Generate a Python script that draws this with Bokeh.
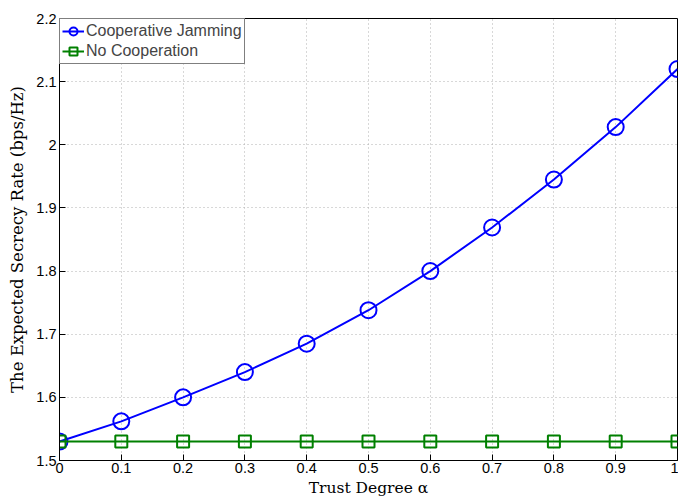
from bokeh.plotting import figure
from bokeh.models import FixedTicker, CustomJSTickFormatter, Range1d, Legend, LegendItem
from bokeh.embed import file_html
from bokeh.resources import INLINE

alpha = [0.0, 0.1, 0.2, 0.3, 0.4, 0.5, 0.6, 0.7, 0.8, 0.9, 1.0]
coop_jamming = [1.530, 1.562, 1.600, 1.640, 1.685, 1.738, 1.800, 1.869, 1.945, 2.028, 2.120]
no_coop = [1.530, 1.530, 1.530, 1.530, 1.530, 1.530, 1.530, 1.530, 1.530, 1.530, 1.530]
x_ticks = [0.0, 0.1, 0.2, 0.3, 0.4, 0.5, 0.6, 0.7, 0.8, 0.9, 1.0]
y_ticks = [1.5, 1.6, 1.7, 1.8, 1.9, 2.0, 2.1, 2.2]

p = figure(width=678, height=499, output_backend="svg", toolbar_location=None,
           x_range=Range1d(0, 1), y_range=Range1d(1.5, 2.2),
           min_border_left=59, min_border_right=1, min_border_top=18, min_border_bottom=37)

fmt = CustomJSTickFormatter(code="return (Math.round(tick*10)/10).toString();")

for ax in p.xaxis + p.yaxis:
    ax.major_tick_in = 6
    ax.major_tick_out = 0
    ax.minor_tick_in = 0
    ax.minor_tick_out = 0
    ax.axis_line_color = "black"
    ax.major_tick_line_color = "black"
    ax.major_label_text_font = "Liberation Sans"
    ax.major_label_text_font_size = "14.5px"
    ax.major_label_text_color = "black"
    ax.axis_label_text_font = "DejaVu Serif"
    ax.axis_label_text_font_style = "normal"
    ax.axis_label_text_color = "black"
    ax.formatter = fmt

p.xaxis.axis_label_text_font_size = "15.5px"
p.yaxis.axis_label_text_font_size = "16.5px"
p.xaxis.ticker = FixedTicker(ticks=x_ticks)
p.yaxis.ticker = FixedTicker(ticks=y_ticks)
p.xaxis.axis_label = "Trust Degree α"
p.yaxis.axis_label = "The Expected Secrecy Rate (bps/Hz)"
p.xaxis.major_label_standoff = 2
p.yaxis.major_label_standoff = 3
p.xaxis.axis_label_standoff = 3
p.yaxis.axis_label_standoff = 6

p.outline_line_color = "black"
p.outline_line_width = 1
p.xgrid.ticker = FixedTicker(ticks=x_ticks)
p.ygrid.ticker = FixedTicker(ticks=y_ticks)
p.grid.grid_line_color = "#b0b0b0"
p.grid.grid_line_dash = "1 3"
p.grid.grid_line_width = 1

l1 = p.line(alpha, coop_jamming, line_color="#0000ff", line_width=2)
m1 = p.scatter(alpha, coop_jamming, marker="circle", size=16, line_color="#0000ff",
               line_width=2, fill_alpha=0)
l2 = p.line(alpha, no_coop, line_color="#008000", line_width=2)
m2 = p.scatter(alpha, no_coop, marker="square", size=12, line_color="#008000",
               line_width=2, fill_alpha=0)

legend = Legend(items=[LegendItem(label="Cooperative Jamming", renderers=[l1, m1]),
                       LegendItem(label="No Cooperation", renderers=[l2, m2])],
                location="top_left")
legend.margin = 0
legend.padding = 2
legend.spacing = 0
legend.label_standoff = 2
legend.glyph_width = 22
legend.glyph_height = 20
legend.label_text_font = "Liberation Sans"
legend.label_text_font_size = "16px"
legend.label_height = 20
legend.border_line_color = "black"
legend.border_line_width = 1
legend.background_fill_alpha = 1
p.add_layout(legend)

open("out.html", "w").write(file_html(p, INLINE))
